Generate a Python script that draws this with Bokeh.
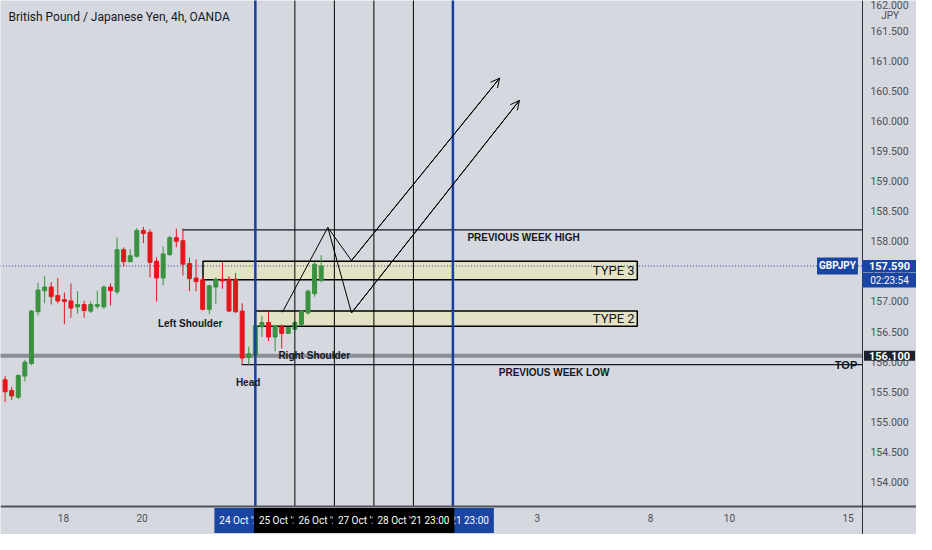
from bokeh.plotting import figure
from bokeh.models import (Range1d, FixedTicker, Label, Arrow, OpenHead, LinearAxis,
                          ColumnDataSource, PrintfTickFormatter)
from bokeh.embed import file_html
from bokeh.resources import INLINE

# ---------------- data ----------------
opens = [155.70, 155.52, 155.41, 155.76, 155.97, 156.83, 157.18, 157.24, 157.10, 157.03,
         157.01, 156.91, 156.95, 156.84, 156.92, 156.91, 157.24, 157.16, 157.86, 157.66,
         157.75, 158.18, 158.15, 157.67, 157.39, 157.78, 158.06, 158.01, 157.63, 157.39,
         157.36, 156.87, 157.24, 157.37, 157.37, 157.37, 156.84, 156.07, 156.11, 156.58,
         156.65, 156.41, 156.58, 156.47, 156.54, 156.62, 156.81, 157.13, 157.35]
highs = [155.76, 155.58, 155.79, 156.03, 156.86, 157.31, 157.42, 157.32, 157.39, 157.15,
         157.30, 157.17, 157.01, 157.00, 157.18, 157.27, 157.30, 158.06, 157.90, 157.87,
         158.22, 158.24, 158.20, 157.73, 157.91, 158.09, 158.21, 158.21, 157.73, 157.70,
         157.43, 157.28, 157.40, 157.66, 157.42, 157.47, 156.97, 156.25, 156.62, 156.76,
         156.83, 156.61, 156.62, 156.58, 156.67, 156.86, 157.20, 157.65, 157.77]
lows = [155.33, 155.36, 155.38, 155.67, 155.94, 156.77, 156.97, 156.95, 156.97, 156.62,
        156.73, 156.80, 156.73, 156.81, 156.88, 156.88, 156.93, 157.12, 157.58, 157.65,
        157.73, 157.97, 157.40, 157.00, 157.27, 157.75, 157.90, 157.43, 157.17, 157.17,
        156.85, 156.79, 156.96, 157.21, 156.83, 156.81, 155.95, 155.95, 156.10, 156.41,
        156.34, 156.17, 156.22, 156.46, 156.52, 156.60, 156.78, 157.08, 157.32]
closes = [155.50, 155.43, 155.77, 155.99, 156.84, 157.19, 157.24, 157.08, 157.01, 157.00,
          156.89, 156.95, 156.85, 156.95, 156.95, 157.24, 157.18, 157.86, 157.66, 157.76,
          158.18, 158.13, 157.65, 157.39, 157.79, 158.06, 158.00, 157.62, 157.38, 157.33,
          156.87, 157.26, 157.37, 157.34, 156.84, 156.83, 156.06, 156.13, 156.60, 156.65,
          156.41, 156.60, 156.47, 156.57, 156.65, 156.84, 157.17, 157.62, 157.59]
candle_idx = list(range(len(opens)))

price_ticks = [154.0, 154.5, 155.0, 155.5, 156.0, 156.5, 157.0, 157.5,
               158.0, 158.5, 159.0, 159.5, 160.0, 160.5, 161.0, 161.5, 162.0]
day_tick_pos = [8.85, 20.8, 80.8, 98.0, 110.0, 128.0]
day_tick_labels = ["18", "20", "3", "8", "10", "15"]

event_idx = [38, 44, 50, 56, 62, 68]
event_labels = ["24 Oct '21 23:00", "25 Oct '21 23:00", "26 Oct '21 23:00",
                "27 Oct '21 23:00", "28 Oct '21 23:00", "29 Oct '21 23:00"]

prev_week_high = 158.19
prev_week_low = 155.95
top_level = 156.10
last_price = 157.59
countdown = "02:23:54"
zone3 = (157.36, 157.67)
zone2 = (156.59, 156.84)

path_a_x = [42.1, 49.0, 52.6, 75.1]
path_a_y = [156.82, 158.23, 157.68, 160.71]
path_b_x = [49.0, 52.6, 78.1]
path_b_y = [158.23, 156.81, 160.34]

# ---------------- style / layout ----------------
BG = "#d5d8df"
GREEN = "#3a9140"
RED = "#e5161b"
BLUE = "#1a3e9e"
LABEL_BLUE = "#1b45a3"
DARK = "#131722"
AXIS_TXT = "#4c4f57"
ZONE = "#e5e3c3"

# whole canvas is the frame; price & time scales sit on fixed-location axes
X0, X1 = -0.70, 138.40          # full canvas width in candle units
Y0, Y1 = 153.129, 162.0         # full canvas height in price units
X_AXIS_AT = 130.19              # right price scale position
Y_AXIS_AT = 153.597             # bottom time scale position
Y_BADGE = 153.363               # middle of time-scale strip
X_BADGE = 134.3                 # middle of price-scale strip

p = figure(width=916, height=534, output_backend="svg", toolbar_location=None,
           x_range=Range1d(X0, X1), y_range=Range1d(Y0, Y1),
           x_axis_location=None, y_axis_location=None,
           min_border=0, min_border_left=0, min_border_right=0,
           min_border_top=0, min_border_bottom=0,
           background_fill_color=BG, border_fill_color=BG, outline_line_color=None)
p.grid.visible = False

yaxis = LinearAxis(fixed_location=X_AXIS_AT, ticker=FixedTicker(ticks=price_ticks),
                   formatter=PrintfTickFormatter(format="%.3f"))
yaxis.major_tick_out = 0
yaxis.major_tick_in = 0
yaxis.minor_tick_out = 0
yaxis.minor_tick_in = 0
yaxis.major_label_standoff = 8
yaxis.major_label_text_font = "Roboto"
yaxis.major_label_text_font_size = "10.5px"
yaxis.major_label_text_color = AXIS_TXT
yaxis.axis_line_color = "#2a2e39"
yaxis.axis_line_width = 1
p.add_layout(yaxis, "right")

xaxis = LinearAxis(fixed_location=Y_AXIS_AT, ticker=FixedTicker(ticks=day_tick_pos))
xaxis.major_label_overrides = dict(zip(day_tick_pos, day_tick_labels))
xaxis.major_tick_out = 0
xaxis.major_tick_in = 0
xaxis.minor_tick_out = 0
xaxis.minor_tick_in = 0
xaxis.major_label_standoff = 8
xaxis.major_label_text_font = "Roboto"
xaxis.major_label_text_font_size = "10px"
xaxis.major_label_text_color = AXIS_TXT
xaxis.axis_line_color = "#50535b"
xaxis.axis_line_width = 2
p.add_layout(xaxis, "below")

# zones
p.quad(left=[30.05, 38.0], right=[96.0, 96.0],
       top=[zone3[1], zone2[1]], bottom=[zone3[0], zone2[0]],
       fill_color=ZONE, fill_alpha=0.95, line_color="black", line_width=1.5)

# horizontal levels (end at the price scale)
p.segment(x0=[X0 - 1], y0=[top_level], x1=[X_AXIS_AT], y1=[top_level],
          line_color="#8b8e95", line_width=4)
p.segment(x0=[26.9, 35.9], y0=[prev_week_high, prev_week_low],
          x1=[X_AXIS_AT, X_AXIS_AT], y1=[prev_week_high, prev_week_low],
          line_color=DARK, line_width=1.3)
p.segment(x0=[X0 - 1], y0=[last_price], x1=[X_AXIS_AT], y1=[last_price],
          line_color="#23409a", line_width=1, line_dash="1 2")

# candles
colors = [GREEN if c >= o else RED for o, c in zip(opens, closes)]
src = ColumnDataSource(dict(x=candle_idx, high=highs, low=lows,
                            top=[max(o, c) for o, c in zip(opens, closes)],
                            bottom=[min(o, c) for o, c in zip(opens, closes)],
                            color=colors))
p.segment(x0="x", y0="high", x1="x", y1="low", source=src, line_color="color", line_width=1)
p.vbar(x="x", width=0.6, top="top", bottom="bottom", source=src,
       fill_color="color", line_color="color", line_width=1)

# vertical event lines (stop at the time scale)
n_ev = len(event_idx)
edge_flags = [k == 0 or k == n_ev - 1 for k in range(n_ev)]
p.segment(x0=event_idx, y0=[Y_AXIS_AT] * n_ev, x1=event_idx, y1=[Y1 + 1] * n_ev,
          line_color=[BLUE if e else "black" for e in edge_flags],
          line_width=[2.5 if e else 1 for e in edge_flags])

# projection paths
p.line(path_a_x, path_a_y, line_color="black", line_width=1)
p.line(path_b_x, path_b_y, line_color="black", line_width=1)
for px, py in ((path_a_x, path_a_y), (path_b_x, path_b_y)):
    p.add_layout(Arrow(end=OpenHead(size=9, line_width=1, line_color="black"),
                       x_start=px[-2], y_start=py[-2], x_end=px[-1], y_end=py[-1],
                       line_color="black", line_width=1))


def lab(x, y, text, size="10px", style="bold", align="left", color=DARK,
        font="Liberation Sans", **kw):
    p.add_layout(Label(x=x, y=y, text=text, text_font=font, text_font_size=size,
                       text_font_style=style, text_align=align, text_baseline="middle",
                       text_color=color, **kw))


lab(8, 517.5, "British Pound / Japanese Yen, 4h, OANDA", size="12px", style="normal",
    font="Roboto", x_units="screen", y_units="screen")
lab(23.2, 156.63, "Left Shoulder")
lab(36.9, 155.66, "Head", align="center")
lab(41.5, 156.10, "Right Shoulder")
lab(70.2, 158.06, "PREVIOUS WEEK HIGH", size="10px")
lab(74.97, 155.82, "PREVIOUS WEEK LOW", size="10px")
lab(129.4, 155.95, "TOP", size="11px", align="right")
lab(95.6, sum(zone3) / 2, "TYPE 3", size="13px", style="normal", font="Roboto", align="right")
lab(95.6, sum(zone2) / 2, "TYPE 2", size="13px", style="normal", font="Roboto", align="right")

# price-scale badges
lab(126.4, last_price, "GBPJPY", size="10px", font="Roboto", align="center", color="white",
    background_fill_color=LABEL_BLUE, padding=dict(x=2, y=3))
lab(X_BADGE, 157.355, countdown, size="10px", style="normal", font="Roboto", align="center",
    color="white", background_fill_color=LABEL_BLUE, padding=dict(x=8, y=2))
lab(X_BADGE, last_price, "157.590", size="11px", font="Roboto", align="center",
    color="white", background_fill_color=LABEL_BLUE, padding=dict(x=7, y=2))
lab(X_BADGE, top_level, "156.100", size="11px", font="Roboto", align="center",
    color="white", background_fill_color="#1e222d", padding=dict(x=5, y=1))
lab(134.4, 161.758, "JPY", size="10px", style="normal", font="Roboto", align="center",
    color=AXIS_TXT)

# time-scale badges (blue ones underneath, black ones on top)
order = [0, n_ev - 1] + list(range(1, n_ev - 1))
for k in order:
    lab(event_idx[k], Y_BADGE, event_labels[k], size="10px", style="normal", font="Roboto",
        align="center", color="white",
        background_fill_color=LABEL_BLUE if edge_flags[k] else "black",
        padding=dict(x=5, y=7))

open("out.html", "w").write(file_html(p, INLINE))
